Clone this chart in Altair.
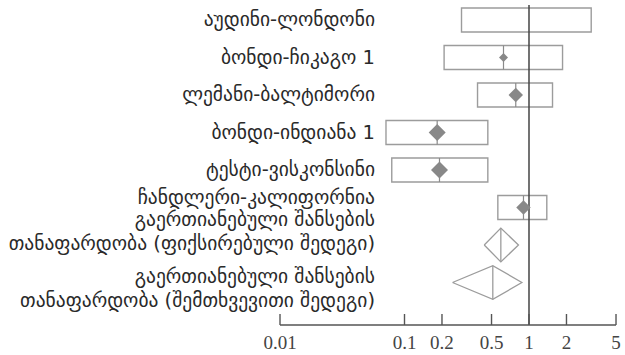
import altair as alt
import pandas as pd

# Individual studies: odds-ratio confidence intervals and point estimates
study_labels = [
    "აუდინი-ლონდონი",
    "ბონდი-ჩიკაგო 1",
    "ლემანი-ბალტიმორი",
    "ბონდი-ინდიანა 1",
    "ტესტი-ვისკონსინი",
    "ჩანდლერი-კალიფორნია",
]
study_low = [0.287, 0.208, 0.386, 0.071, 0.079, 0.562]
study_high = [3.16, 1.86, 1.545, 0.467, 0.467, 1.39]
study_est = [None, 0.624, 0.783, 0.183, 0.191, 0.903]
study_weight = [None, 5, 13, 18, 18, 13]

# Pooled results
summary_labels = [
    "გაერთიანებული შანსების\nთანაფარდობა (ფიქსირებული შედეგი)",
    "გაერთიანებული შანსების\nთანაფარდობა (შემთხვევითი შედეგი)",
]
summary_est = [0.594, 0.512]
summary_low = [0.437, 0.243]
summary_high = [0.823, 0.876]

tick_values = [0.01, 0.1, 0.2, 0.5, 1, 2, 5]
tick_labels = ["0.01", "0.1", "0.2", "0.5", "1", "2", "5"]

# plot area geometry (pixels)
W, H = 355, 345
AXIS_Y = 320          # baseline of the odds-ratio axis
TICK_LEN = 11
TICK_LABEL_Y = 338
LABEL_X = 105
ROW_PX = 37.5
BOX_HALF = 0.32
SUM_HALF = 0.45

studies = pd.DataFrame({
    "row": list(range(len(study_labels))),
    "label": study_labels,
    "low": study_low,
    "high": study_high,
    "est": study_est,
    "weight": study_weight,
})
n = len(study_labels)
summaries = pd.DataFrame({
    "row": [n + i for i in range(len(summary_labels))],
    "label": summary_labels,
    "low": summary_low,
    "high": summary_high,
    "est": summary_est,
})
tick_df = pd.DataFrame({"t": tick_values, "txt": tick_labels})

# diamond outlines for the pooled estimates
verts = []
for _, r in summaries.iterrows():
    pts = [(r.low, r.row), (r.est, r.row - SUM_HALF), (r.high, r.row),
           (r.est, r.row + SUM_HALF), (r.low, r.row)]
    for k, (xv, yv) in enumerate(pts):
        verts.append({"id": int(r.row), "k": k, "x": xv, "y": yv})
diamonds = pd.DataFrame(verts)

# log odds-ratio scale: 0.01 sits 10 px in from the left edge, ~124.5 px per decade
x_scale = alt.Scale(type="log", domain=[0.00831, 5.904], nice=False)
y_top = -0.4
y_scale = alt.Scale(domain=[y_top, y_top + H / ROW_PX], reverse=True, nice=False, zero=False)
# axis baseline and tick tops expressed in row units
axis_row = y_top + AXIS_Y / ROW_PX
tick_top_row = y_top + (AXIS_Y - TICK_LEN) / ROW_PX


def X(field):
    return alt.X(field, scale=x_scale, axis=None)


def Y(field):
    return alt.Y(field, scale=y_scale, axis=None)


GREY = "#9c9c9c"
AXIS_GREY = "#555555"

boxes = alt.Chart(studies).transform_calculate(
    y0=f"datum.row - {BOX_HALF}", y1=f"datum.row + {BOX_HALF}"
).mark_rect(fill="white", fillOpacity=0, stroke=GREY, strokeWidth=1.4).encode(
    x=X("low:Q"), x2="high:Q", y=Y("y0:Q"), y2="y1:Q",
)

est_lines = alt.Chart(studies).transform_filter("isValid(datum.est)").transform_calculate(
    y0=f"datum.row - {BOX_HALF}", y1=f"datum.row + {BOX_HALF}"
).mark_rule(color="#8a8a8a", strokeWidth=1.2).encode(
    x=X("est:Q"), y=Y("y0:Q"), y2="y1:Q",
)

markers = alt.Chart(studies).transform_filter("isValid(datum.est)").mark_point(
    shape="diamond", filled=True, color="#888888", opacity=1
).encode(
    x=X("est:Q"),
    y=Y("row:Q"),
    size=alt.Size("weight:Q", scale=alt.Scale(domain=[0, 18], range=[0, 290], zero=True),
                  legend=None),
)

ref_line = alt.Chart(pd.DataFrame({"x": [1]})).transform_calculate(
    ya=f"{y_top}", yb=f"{axis_row}"
).mark_rule(color="#444", strokeWidth=1.5).encode(
    x=X("x:Q"), y=Y("ya:Q"), y2="yb:Q",
)

# axis baseline from the first to the last tick, with upward ticks and serif labels
baseline = alt.Chart(tick_df).transform_aggregate(
    lo="min(t)", hi="max(t)"
).transform_calculate(
    ya=f"{axis_row}"
).mark_rule(color=AXIS_GREY, strokeWidth=1.4).encode(
    x=X("lo:Q"), x2="hi:Q", y=Y("ya:Q"),
)

ticks = alt.Chart(tick_df).transform_calculate(
    ya=f"{tick_top_row}", yb=f"{axis_row}"
).mark_rule(color=AXIS_GREY, strokeWidth=1.4).encode(
    x=X("t:Q"), y=Y("ya:Q"), y2="yb:Q",
)

tick_text = alt.Chart(tick_df).mark_text(
    font="Liberation Serif", fontSize=19, color="#444", baseline="middle", align="center"
).encode(
    x=X("t:Q"), y=alt.value(TICK_LABEL_Y), text="txt:N",
)

sum_outline = alt.Chart(diamonds).mark_line(color=GREY, strokeWidth=1.3).encode(
    x=X("x:Q"), y=Y("y:Q"), detail="id:N", order="k:Q",
)

sum_lines = alt.Chart(summaries).transform_calculate(
    y0=f"datum.row - {SUM_HALF}", y1=f"datum.row + {SUM_HALF}"
).mark_rule(color=GREY, strokeWidth=1.3).encode(
    x=X("est:Q"), y=Y("y0:Q"), y2="y1:Q",
)

text_style = dict(align="right", baseline="middle", font="DejaVu Sans",
                  fontSize=19.5, color="#2a2a2a", lineBreak="\n", lineHeight=24)


def label_layer(df, cond, dy):
    return alt.Chart(df).transform_filter(cond).mark_text(dy=dy, **text_style).encode(
        x=alt.value(LABEL_X), y=Y("row:Q"), text="label:N",
    )


labels = alt.layer(
    label_layer(studies, f"datum.row < {n - 1}", 0),
    label_layer(studies, f"datum.row == {n - 1}", -10),
    label_layer(summaries, f"datum.row == {n}", -25),
    label_layer(summaries, f"datum.row == {n + 1}", -6),
)

chart = alt.layer(
    boxes, ref_line, est_lines, markers, sum_outline, sum_lines,
    baseline, ticks, tick_text, labels
).properties(
    width=W, height=H,
    padding={"left": 270, "top": 5, "right": 0, "bottom": 5},
    autosize=alt.AutoSizeParams(type="none"),
    background="white",
).configure_view(stroke=None)

chart.save("out.html", embed_options={"renderer": "svg", "actions": False})
